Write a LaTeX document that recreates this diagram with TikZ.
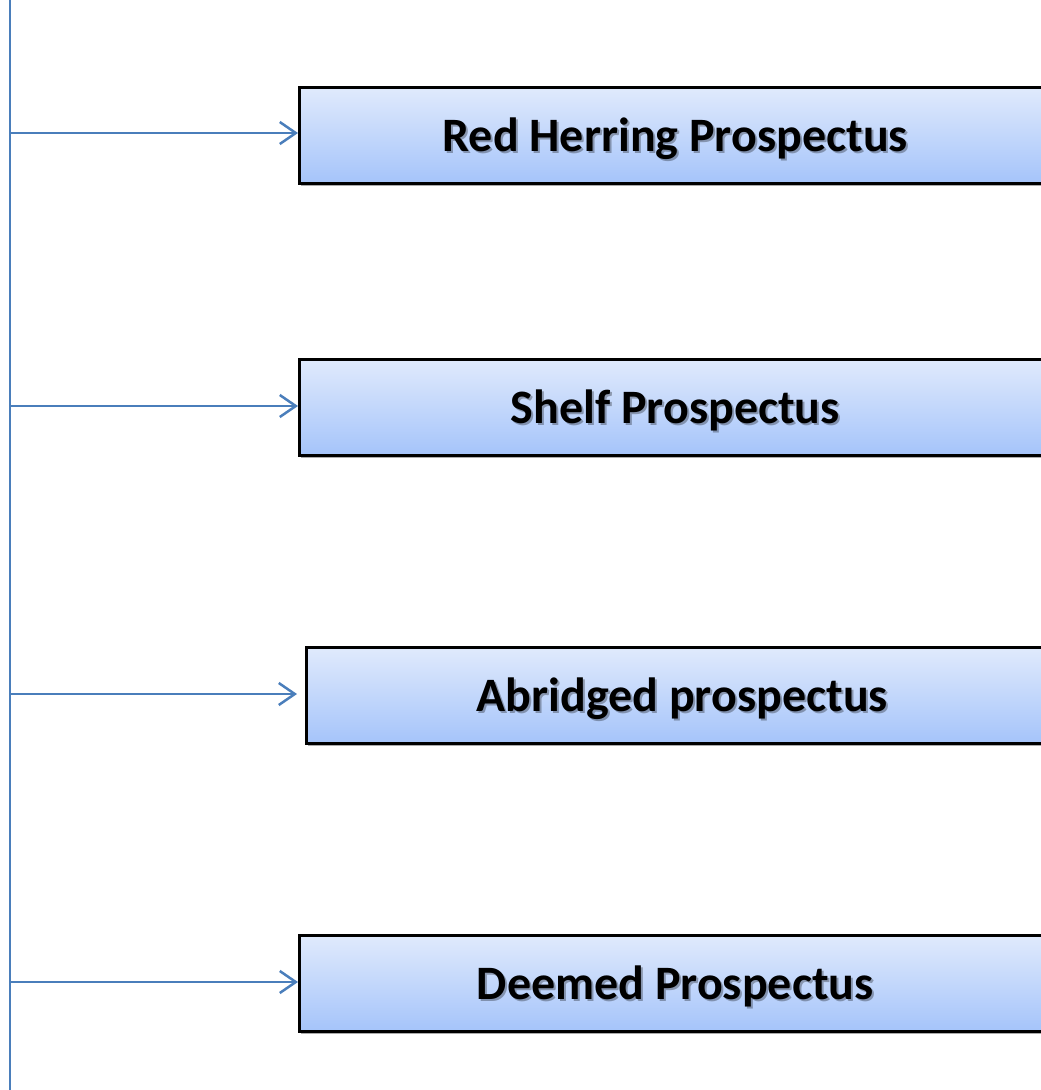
\documentclass[tikz,border=0pt]{standalone}
\usepackage{fontspec}
\setmainfont{Carlito}
\usetikzlibrary{arrows.meta,shadows}
\definecolor{trunk}{HTML}{4A7EBB}
\definecolor{boxtop}{HTML}{E0EAFC}
\definecolor{boxbot}{HTML}{A5C4FA}
\tikzset{
  pbox/.style={draw=black, line width=2.6pt, top color=boxtop, bottom color=boxbot,
    minimum width=752pt, minimum height=96pt, anchor=north west, inner sep=0pt,
    drop shadow={shadow xshift=2pt, shadow yshift=-3pt, fill=black!55, opacity=0.6}},
  plabel/.style={font=\fontsize{48}{56}\selectfont\bfseries, text=black},
  pshadow/.style={font=\fontsize{48}{56}\selectfont\bfseries, text=black, opacity=0.3},
  branch/.style={draw=trunk, line width=2.5pt, -{Straight Barb[length=16pt,width=22pt,line width=2.5pt]}},
}
\newcommand{\boxtext}[2]{%
  \node[pshadow] at ([xshift=2pt,yshift=-5pt]#1.center) {#2};
  \node[plabel] at ([yshift=-3pt]#1.center) {#2};}
\begin{document}
\begin{tikzpicture}[x=1pt,y=-1pt]
\useasboundingbox[fill=white] (0,0) rectangle (1041,1090);
\coordinate (top) at (10,0);
\coordinate (bot) at (10,1090);
\draw[trunk, line width=2.5pt] (top) -- (bot);
\node[pbox] (b1) at (298,86) {};
\node[pbox] (b2) at (298,358) {};
\node[pbox] (b3) at (305,646) {};
\node[pbox] (b4) at (298,934) {};
\boxtext{b1}{Red Herring Prospectus}
\boxtext{b2}{Shelf Prospectus}
\boxtext{b3}{Abridged prospectus}
\boxtext{b4}{Deemed Prospectus}
\coordinate (t1) at (10,133);
\coordinate (t2) at (10,406);
\coordinate (t3) at (10,694);
\coordinate (t4) at (10,982);
\draw[branch] (t1) -- (t1 -| b1.west);
\draw[branch] (t2) -- (t2 -| b2.west);
\draw[branch, shorten >=8pt] (t3) -- (t3 -| b3.west);
\draw[branch] (t4) -- (t4 -| b4.west);
\end{tikzpicture}
\end{document}
